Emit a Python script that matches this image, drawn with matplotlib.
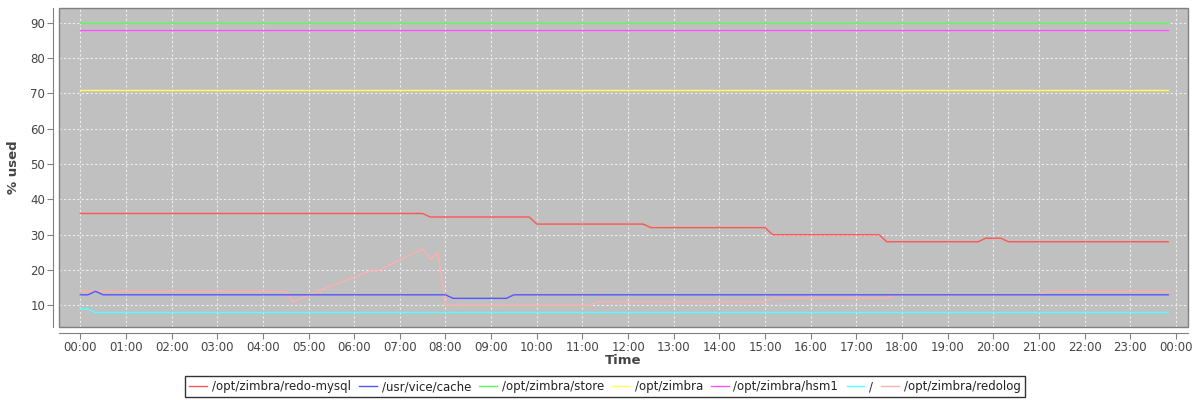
import pandas as pd
import matplotlib
matplotlib.use("Agg")
import matplotlib.pyplot as plt
import matplotlib.dates as mdates
from matplotlib.patches import Rectangle

# --- data: polyline vertices (10 minute samples) ---
day = "2024-01-01 "

redo_mysql_t = ["00:00", "07:30", "07:40", "09:50", "10:00", "12:20", "12:30", "15:00",
                "15:10", "17:30", "17:40", "19:40", "19:50", "20:10", "20:20", "23:50"]
redo_mysql_v = [36, 36, 35, 35, 33, 33, 32, 32, 30, 30, 28, 28, 29, 29, 28, 28]

vice_cache_t = ["00:00", "00:10", "00:20", "00:30", "08:00", "08:10", "09:20", "09:30", "23:50"]
vice_cache_v = [13, 13, 14, 13, 13, 12, 12, 13, 13]

store_t = ["00:00", "23:50"]
store_v = [90, 90]

zimbra_t = ["00:00", "23:50"]
zimbra_v = [71, 71]

hsm1_t = ["00:00", "23:50"]
hsm1_v = [88, 88]

root_t = ["00:00", "00:10", "00:20", "23:50"]
root_v = [9, 9, 8, 8]

redolog_t = ["00:00", "04:30", "04:40", "05:00", "06:20", "06:30", "07:30", "07:40", "07:50",
             "08:00", "11:10", "11:20", "15:00", "15:10", "17:40", "17:50", "21:00", "21:10", "23:50"]
redolog_v = [14, 14, 11, 13, 19.7, 19.7, 26, 23, 25,
             10, 10, 11, 11, 12, 12, 13, 13, 14, 14]

series = [
    ("/opt/zimbra/redo-mysql", redo_mysql_t, redo_mysql_v, "#FF5555"),
    ("/usr/vice/cache", vice_cache_t, vice_cache_v, "#5555FF"),
    ("/opt/zimbra/store", store_t, store_v, "#55FF55"),
    ("/opt/zimbra", zimbra_t, zimbra_v, "#FFFF55"),
    ("/opt/zimbra/hsm1", hsm1_t, hsm1_v, "#FF55FF"),
    ("/", root_t, root_v, "#55FFFF"),
    ("/opt/zimbra/redolog", redolog_t, redolog_v, "#FFAFAF"),
]

fig = plt.figure(figsize=(12, 4), dpi=100)
ax = fig.add_axes([59 / 1200, 73 / 400, 1129 / 1200, 319 / 400])
ax.set_facecolor("#C0C0C0")

# first series drawn on top (like the original renderer)
n = len(series)
for i, (name, t, v, c) in enumerate(series):
    x = pd.to_datetime([day + s for s in t])
    ax.plot(x, v, color=c, lw=1.0, label=name, zorder=10 + n - i)

start = pd.Timestamp(day + "00:00")
ax.set_xlim(start - pd.Timedelta(minutes=28), start + pd.Timedelta(hours=24, minutes=16))
ax.set_ylim(3.9, 94.1)
ax.set_yticks(range(10, 100, 10))
ax.xaxis.set_major_locator(mdates.HourLocator(interval=1))
ax.xaxis.set_major_formatter(mdates.DateFormatter("%H:%M"))

ax.grid(True, color="#EEEEEE", ls=(0, (2, 2)), lw=0.8)
ax.set_axisbelow(True)

# plot outline plus offset axis lines
for s in ["top", "right"]:
    ax.spines[s].set_visible(False)
for s in ["left", "bottom"]:
    ax.spines[s].set_position(("outward", 4))
    ax.spines[s].set_color("#808080")
ax.add_patch(Rectangle((0, 0), 1, 1, transform=ax.transAxes, fill=False,
                       ec="#808080", lw=1, zorder=30, clip_on=False))

ax.tick_params(colors="#808080", labelcolor="#444444", labelsize=8.5, length=4, pad=2)

ax.set_xlabel("Time", fontsize=9.5, fontweight="bold", color="#444444")
ax.set_ylabel("% used", fontsize=9.5, fontweight="bold", color="#444444")
ax.xaxis.label.set_va("center")
ax.xaxis.set_label_coords(0.5, -0.105)
ax.yaxis.set_label_coords(-0.0345, 0.5)

leg = fig.legend(loc="center", bbox_to_anchor=(605 / 1200, 1 - 386.5 / 400), ncol=7,
                 fontsize=8.5, frameon=True, fancybox=False, edgecolor="black",
                 handlelength=1.5, handletextpad=0.4, columnspacing=0.7,
                 borderpad=0.35, borderaxespad=0)
leg.get_frame().set_linewidth(1)
for txt in leg.get_texts():
    txt.set_color("#222222")

fig.savefig("out.png", dpi=100)
